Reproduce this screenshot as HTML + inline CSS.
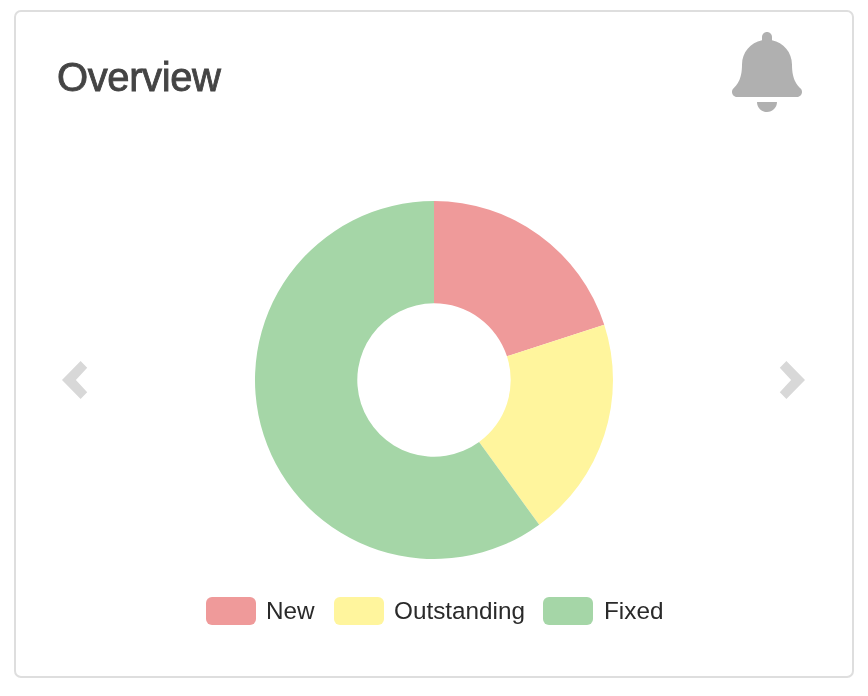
<!DOCTYPE html>
<html>
<head>
<meta charset="utf-8">
<style>
html,body{margin:0;padding:0;background:#fff;width:868px;height:696px;overflow:hidden;}
.title,.lt{will-change:transform;}
.card{position:absolute;left:14px;top:10px;width:836px;height:664px;border:2px solid #dedede;border-radius:7px;background:#fff;}
.title{position:absolute;left:57px;top:53px;margin:0;font-family:"Liberation Sans",Arial,sans-serif;font-weight:normal;font-size:40px;line-height:48px;color:#444;-webkit-text-stroke:0.85px #444;letter-spacing:-0.4px;}
svg{position:absolute;left:0;top:0;}
.sw{position:absolute;top:597px;width:50px;height:28px;border-radius:6px;}
.lt{position:absolute;top:593px;font-family:"Liberation Sans",Arial,sans-serif;font-size:24.3px;line-height:36px;color:#2a2a2a;white-space:nowrap;}
</style>
</head>
<body>
<div class="card"></div>
<h1 class="title">Overview</h1>
<svg width="868" height="696" viewBox="0 0 868 696">
  <!-- bell -->
  <g transform="translate(732,32) scale(0.15625)" fill="#b0b0b0">
    <path d="M224 512c35.32 0 63.97-28.65 63.97-64H160.03c0 35.35 28.65 64 63.97 64zm215.39-149.71c-19.32-20.76-55.47-51.99-55.47-154.29 0-77.7-54.48-139.9-127.94-155.16V32c0-17.67-14.32-32-31.98-32s-31.98 14.33-31.98 32v20.84C118.56 68.1 64.08 130.3 64.08 208c0 102.3-36.15 133.53-55.47 154.29-6 6.45-8.66 14.16-8.61 21.71.11 16.4 12.98 32 32.1 32h383.8c19.12 0 32-15.6 32.1-32 .05-7.55-2.61-15.27-8.61-21.71z"/>
  </g>
  <!-- chevrons -->
  <polygon points="62,380 80.6,361 87.2,367.7 75.9,380 87.2,392.3 80.6,399" fill="#d8d8d8"/>
  <polygon points="805,380 786.4,361 779.8,367.7 791.1,380 779.8,392.3 786.4,399" fill="#d8d8d8"/>
  <!-- donut -->
  <path d="M434.00 201.00A179 179 0 0 1 604.24 324.69L506.95 356.30A76.7 76.7 0 0 0 434.00 303.30Z" fill="#ef9a9a"/>
  <path d="M604.24 324.69A179 179 0 0 1 539.21 524.81L479.08 442.05A76.7 76.7 0 0 0 506.95 356.30Z" fill="#fff59d"/>
  <path d="M539.21 524.81A179 179 0 1 1 434.00 201.00L434.00 303.30A76.7 76.7 0 1 0 479.08 442.05Z" fill="#a5d6a7"/>
</svg>
<div class="sw" style="left:206px;background:#ef9a9a"></div>
<div class="lt" style="left:265.7px">New</div>
<div class="sw" style="left:334px;background:#fff59d"></div>
<div class="lt" style="left:393.5px">Outstanding</div>
<div class="sw" style="left:543px;background:#a5d6a7"></div>
<div class="lt" style="left:603.5px">Fixed</div>
</body>
</html>
